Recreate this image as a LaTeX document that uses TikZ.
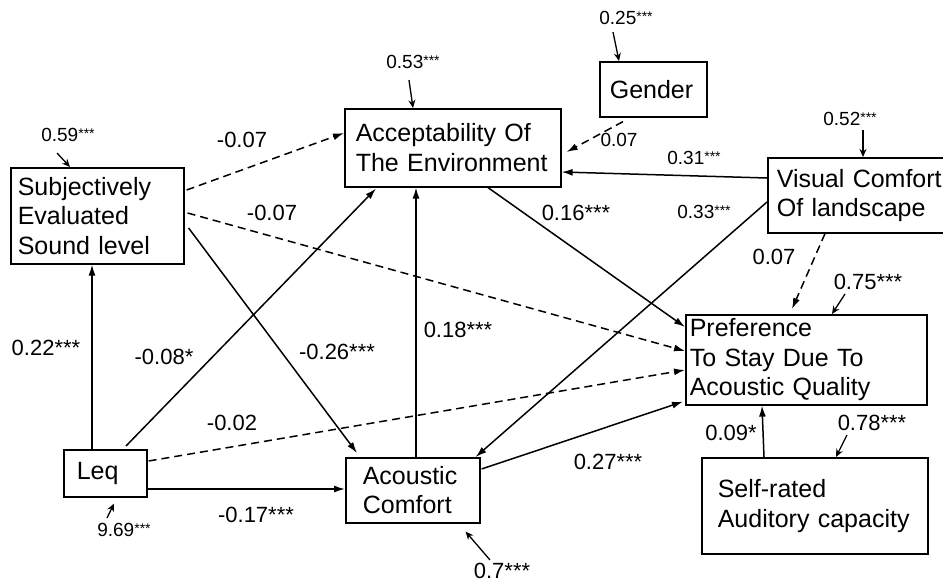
\documentclass[tikz,border=0pt]{standalone}
\usepackage{fontspec}
\setmainfont{Liberation Sans}
\usetikzlibrary{arrows.meta}

\begin{document}
\begin{tikzpicture}[x=1pt, y=-1pt, >={Latex[length=11pt,width=7pt]}]

\def\boxfont{\fontsize{25}{29.5}\selectfont}
\def\lblfont{\fontsize{22}{24}\selectfont}
\def\errfont{\fontsize{19}{21}\selectfont}
\def\errstars{\raisebox{3pt}{\fontsize{14}{14}\selectfont ***}}

\tikzset{box/.style={draw, line width=1.6pt, anchor=north west, align=left, inner ysep=0pt, font=\boxfont}}
\tikzset{link/.style={->, line width=1.5pt}}
\tikzset{dlink/.style={link, dash pattern=on 8pt off 5pt}}
\tikzset{errlink/.style={-{Stealth[length=8pt,width=7pt]}, line width=1.3pt}}
\tikzset{lbl/.style={font=\lblfont, inner sep=1pt}}
\tikzset{err/.style={font=\errfont, inner sep=1pt}}

\fill[white] (0,0) rectangle (943,584);
\useasboundingbox (0,0) rectangle (943,584);

% variables
\node[box, inner xsep=7pt,  text width=159pt, minimum height=96pt] (ses)  at (10,167)  {Subjectively\\Evaluated\\Sound level};
\node[box, inner xsep=11pt, text width=194pt, minimum height=78pt] (acc)  at (344,108) {Acceptability Of\\The Environment};
\node[box, inner xsep=10pt, text width=87pt,  minimum height=55pt] (gen)  at (599,61)  {Gender};
\node[box, inner xsep=9pt,  text width=182pt, minimum height=75pt] (vis)  at (767,157) {Visual Comfort\\Of landscape};
\node[box, inner xsep=4pt,  text width=233pt, minimum height=90pt] (pref) at (685,314) {Preference\\To Stay Due To\\Acoustic Quality};
\node[box, inner xsep=13pt, text width=57pt,  minimum height=47pt] (leq)  at (63,449)  {Leq};
\node[box, inner xsep=17pt, text width=100pt, minimum height=65pt] (ac)   at (345,457) {Acoustic\\Comfort};
\node[box, inner xsep=16pt, text width=194pt, minimum height=96pt] (self) at (701,457) {Self-rated\\Auditory capacity};

% paths
\draw[dlink] ([shift={(2,23)}]ses.north east) -- ([shift={(0,25)}]acc.north west);
\draw[dlink] ([shift={(3,46)}]ses.north east) -- ([shift={(0,37)}]pref.north west);
\draw[link]  ([shift={(4,61)}]ses.north east) -- ([shift={(12,-4)}]ac.north west);
\draw[link]  ([shift={(29,0)}]leq.north west) -- ([shift={(82,0)}]ses.south west);
\draw[link]  ([shift={(63,-3)}]leq.north west) -- ([shift={(32,1)}]acc.south west);
\draw[dlink] ([shift={(1,12)}]leq.north east) -- ([shift={(0,56)}]pref.north west);
\draw[link]  ([shift={(0,40)}]leq.north east) -- ([shift={(0,32)}]ac.north west);
\draw[link]  ([shift={(71,0)}]ac.north west) -- ([shift={(72,0)}]acc.south west);
\draw[link]  ([shift={(1,12)}]ac.north east) -- ([shift={(-2,-4)}]pref.south west);
\draw[link]  ([shift={(144,0)}]acc.south west) -- ([shift={(0,13)}]pref.north west);
\draw[link]  ([shift={(0,21)}]vis.north west) -- ([shift={(0,64)}]acc.north east);
\draw[link]  ([shift={(0,45)}]vis.north west) -- ([shift={(-5,0)}]ac.north east);
\draw[dlink] ([shift={(58,0)}]vis.south west) -- ([shift={(107,-5)}]pref.north west);
\draw[dlink] ([shift={(24,4)}]gen.south west) -- ([shift={(5,44)}]acc.north east);
\draw[link]  ([shift={(63,0)}]self.north west) -- ([shift={(77,0)}]pref.south west);

\node[lbl] (l1)  at (242,140) {-0.07};
\node[lbl] (l2)  at (272,213) {-0.07};
\node[lbl] (l3)  at (337,352) {-0.26***};
\node[lbl] (l4)  at (46,348)  {0.22***};
\node[lbl] (l5)  at (164,357) {-0.08*};
\node[lbl] (l6)  at (232,423) {-0.02};
\node[lbl] (l7)  at (256,515) {-0.17***};
\node[lbl] (l8)  at (458,330) {0.18***};
\node[lbl] (l9)  at (576,213) {0.16***};
\node[lbl] (l10) at (608,462) {0.27***};
\node[lbl] (l11) at (774,257) {0.07};
\node[lbl] (l12) at (731,433) {0.09*};
\node[err] (l13) at (694,158) {0.31\errstars};
\node[err] (l14) at (704,212) {0.33\errstars};
\node[err] (l15) at (619,140) {0.07};

% residuals
\node[err] (e1) at (68,135)  {0.59\errstars};
\node[err] (e2) at (413,62)  {0.53\errstars};
\node[err] (e3) at (626,18)  {0.25\errstars};
\node[err] (e4) at (850,119) {0.52\errstars};
\node[lbl] (e5) at (868,282) {0.75***};
\node[lbl] (e6) at (872,423) {0.78***};
\node[err] (e7) at (124,530) {9.69\errstars};
\node[lbl] (e8) at (502,571) {0.7***};

\draw[errlink] ([shift={(-11,18)}]e1.center)  -- ([shift={(60,0)}]ses.north west);
\draw[errlink] ([shift={(-4,18)}]e2.center)   -- ([shift={(69,0)}]acc.north west);
\draw[errlink] ([shift={(-13,14)}]e3.center)  -- ([shift={(20,0)}]gen.north west);
\draw[errlink] ([shift={(13,11)}]e4.center)   -- ([shift={(96,0)}]vis.north west);
\draw[errlink] ([shift={(-23,12)}]e5.center)  -- ([shift={(147,0)}]pref.north west);
\draw[errlink] ([shift={(-25,12)}]e6.center)  -- ([shift={(135,0)}]self.north west);
\draw[errlink] ([shift={(-17,-12)}]e7.center) -- ([shift={(51,6)}]leq.south west);
\draw[errlink] ([shift={(-12,-11)}]e8.center) -- ([shift={(-15,8)}]ac.south east);

\end{tikzpicture}
\end{document}
